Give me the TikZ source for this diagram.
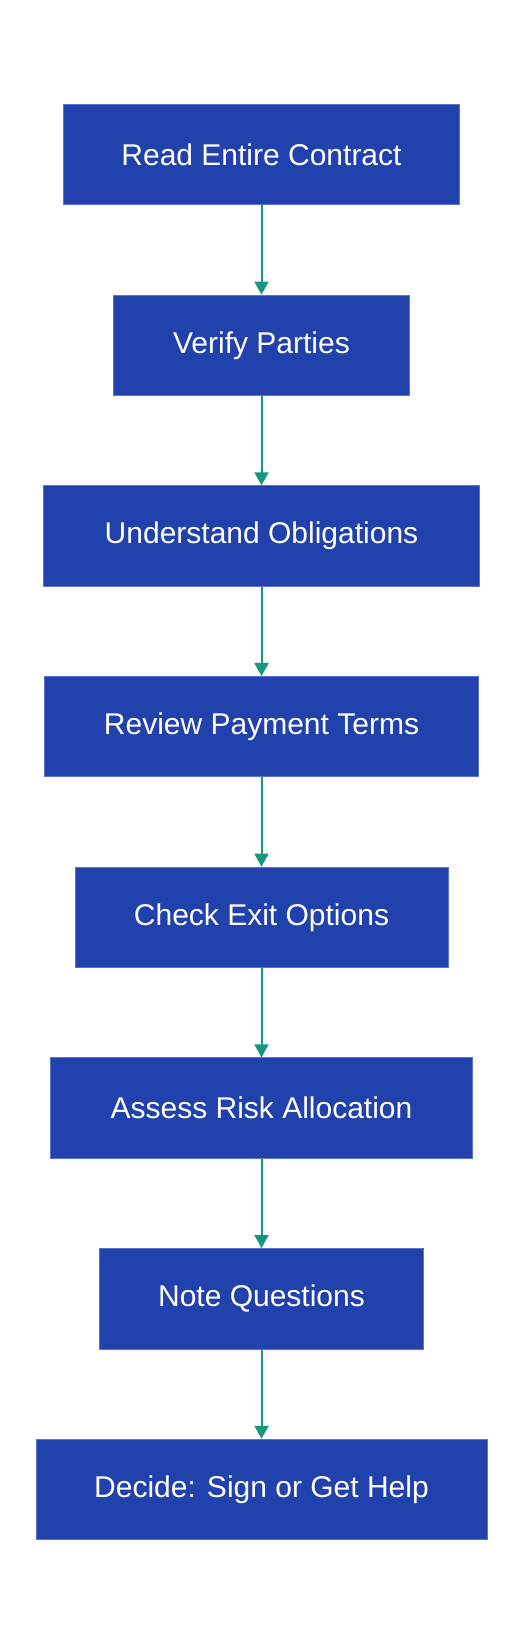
\documentclass[tikz,border=0pt]{standalone}
\usepackage{fontspec}
\setmainfont{Liberation Sans}
\usetikzlibrary{arrows.meta}
\definecolor{boxfill}{RGB}{33,65,173}
\definecolor{boxline}{RGB}{90,115,205}
\definecolor{arrowc}{RGB}{22,150,128}
\tikzset{
  stepbox/.style={rectangle, fill=boxfill, draw=boxline, line width=1pt, inner sep=0pt,
    minimum height=100.5pt, text=white, font=\fontsize{30}{36}\selectfont},
  flow/.style={draw=arrowc, line width=2pt, -{Triangle[width=14pt,length=13pt]}}
}
\begin{document}
\begin{tikzpicture}[x=1pt,y=-1pt]
\useasboundingbox (0,0) rectangle (524,1644);
\fill[white] (0,0) rectangle (524,1644);
\node[stepbox, minimum width=396pt] (n1) at (261.5,154.6) {Read Entire Contract};
\node[stepbox, minimum width=296.7pt] (n2) at (261.5,345.3) {Verify Parties};
\node[stepbox, minimum width=436.7pt] (n3) at (261.5,536.0) {Understand Obligations};
\node[stepbox, minimum width=433.3pt] (n4) at (261.5,726.7) {Review Payment Terms};
\node[stepbox, minimum width=373pt] (n5) at (261.5,917.4) {Check Exit Options};
\node[stepbox, minimum width=421.2pt] (n6) at (261.5,1108.1) {Assess Risk Allocation};
\node[stepbox, minimum width=324.7pt] (n7) at (261.5,1298.8) {Note Questions};
\node[stepbox, minimum width=451pt] (n8) at (261.5,1489.5) {Decide: Sign or Get Help};
\foreach \a/\b in {n1/n2,n2/n3,n3/n4,n4/n5,n5/n6,n6/n7,n7/n8}
  \draw[flow] (\a.south) -- (\b.north);
\end{tikzpicture}
\end{document}
